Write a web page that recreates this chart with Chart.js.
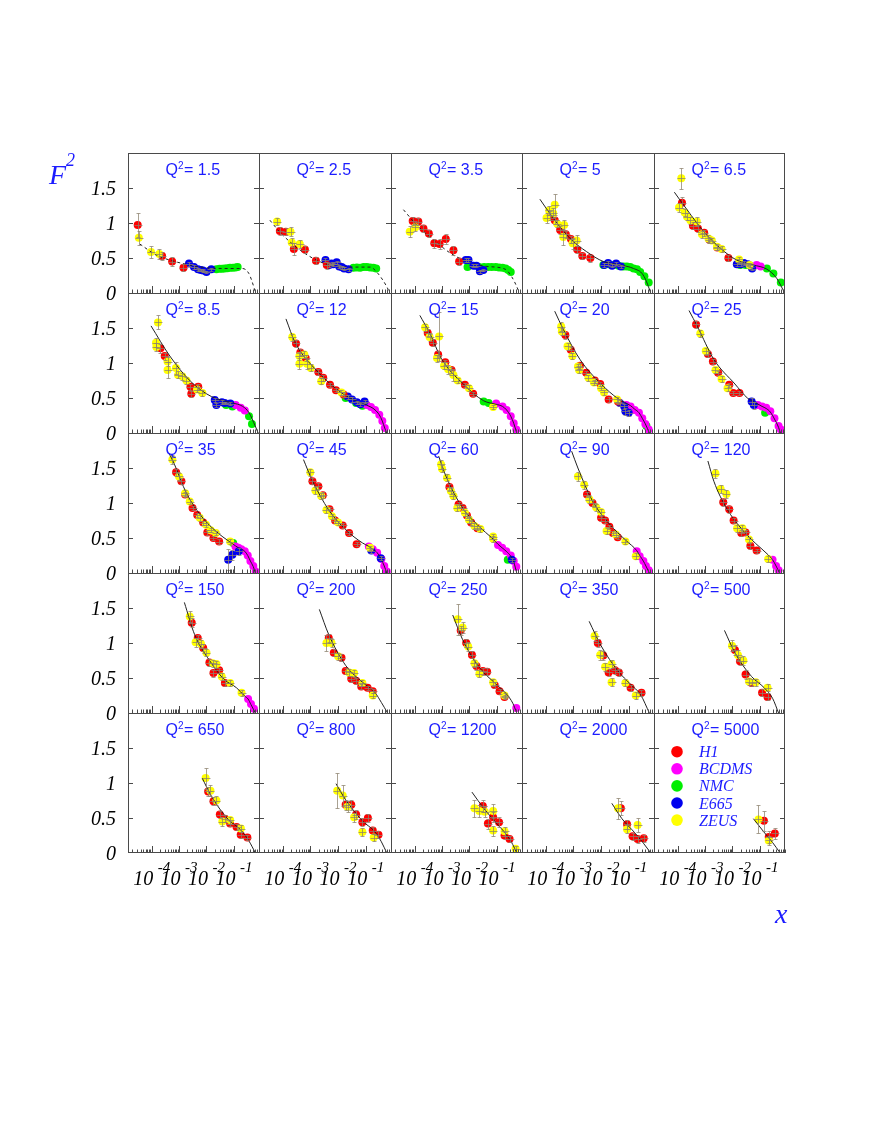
<!DOCTYPE html>
<html><head><meta charset="utf-8">
<script src="https://cdn.jsdelivr.net/npm/chart.js@4/dist/chart.umd.min.js"></script>
<style>
body{margin:0;background:#fff;}
#wrap{position:relative;width:880px;height:1139px;overflow:hidden;background:#fff;}
#wrap canvas{position:absolute;}
</style>
</head><body><div id="wrap"></div>
<script>
// ---------------- data ----------------
const q2Values = [1.5,2.5,3.5,5,6.5,8.5,12,15,20,25,35,45,60,90,120,150,200,250,350,500,650,800,1200,2000,5000];
const experimentNames = ['H1','BCDMS','NMC','E665','ZEUS'];
const yTickValues = [0,0.5,1,1.5];
const xTickExponents = [-4,-3,-2,-1];
const dashedFitPanels = [0,1,2];

// [x, F2, error] per panel
const h1Points = [
 [[3.1e-5,0.97,0.17],[2.4e-4,0.53,0.06],[5.6e-4,0.45,0.06],[1.45e-3,0.36,0.05]],
 [[7.8e-5,0.886,0.06],[1.29e-4,0.876,0.05],[2.5e-4,0.63,0.08],[6.3e-4,0.62,0.05],[1.58e-3,0.46,0.05],[3.9e-3,0.40,0.05]],
 [[8.5e-5,1.03,0.06],[1.36e-4,1.02,0.05],[2.1e-4,0.92,0.05],[3.3e-4,0.85,0.05],[5.2e-4,0.71,0.06],[8.1e-4,0.70,0.07],[1.37e-3,0.77,0.07],[2.6e-3,0.61,0.06],[4.2e-3,0.45,0.05]],
 [[1.4e-4,1.11,0.06],[2.1e-4,1.04,0.05],[3.3e-4,0.90,0.05],[5.3e-4,0.84,0.05],[8.1e-4,0.77,0.05],[1.37e-3,0.62,0.05],[2.1e-3,0.53,0.04],[4.1e-3,0.50,0.05]],
 [[1.44e-4,1.29,0.08],[3.6e-4,0.96,0.05],[5.5e-4,0.92,0.05],[9.3e-4,0.86,0.04],[1.45e-3,0.76,0.04],[2.8e-3,0.65,0.04],[7.1e-3,0.50,0.04]],
 [[2.1e-4,1.21,0.06],[3e-4,1.10,0.05],[2.6e-3,0.66,0.04],[2.8e-3,0.56,0.04],[5e-3,0.66,0.04]],
 [[3e-4,1.28,0.05],[4.3e-4,1.15,0.05],[6.7e-4,1.07,0.04],[1.93e-3,0.87,0.04],[2.9e-3,0.79,0.04],[5.1e-3,0.69,0.03],[8.4e-3,0.61,0.03],[0.0158,0.55,0.03]],
 [[3e-4,1.43,0.05],[4.6e-4,1.29,0.05],[7.2e-4,1.12,0.05],[1.31e-3,1.01,0.04],[2.2e-3,0.90,0.04],[6.8e-3,0.69,0.03],[0.0136,0.56,0.03]],
 [[5.1e-4,1.40,0.05],[8e-4,1.19,0.04],[1.73e-3,0.96,0.04],[2.9e-3,0.86,0.03],[5.9e-3,0.75,0.03],[9.3e-3,0.70,0.03],[0.0188,0.48,0.03],[0.041,0.45,0.03]],
 [[4.7e-4,1.55,0.05],[1.27e-3,1.13,0.04],[1.93e-3,1.02,0.04],[3e-3,0.86,0.03],[7.6e-3,0.69,0.03],[0.0107,0.57,0.03],[0.018,0.57,0.03]],
 [[7.8e-4,1.44,0.05],[1.22e-3,1.31,0.04],[1.67e-3,1.12,0.04],[3.1e-3,0.93,0.03],[4.6e-3,0.83,0.03],[7.6e-3,0.72,0.03],[0.0107,0.58,0.03],[0.018,0.50,0.03],[0.029,0.45,0.03]],
 [[1.18e-3,1.31,0.04],[1.93e-3,1.24,0.04],[2.8e-3,1.11,0.04],[4.9e-3,0.91,0.03],[7.8e-3,0.75,0.03],[0.0147,0.68,0.03],[0.025,0.57,0.03],[0.047,0.41,0.03]],
 [[1.86e-3,1.23,0.04],[4e-3,0.98,0.03],[5.6e-3,0.93,0.03],[8.1e-3,0.82,0.03],[0.0115,0.72,0.03],[0.0195,0.64,0.03]],
 [[3.1e-3,1.12,0.04],[4.9e-3,1.00,0.04],[0.01,0.79,0.04],[0.014,0.75,0.03],[0.02,0.66,0.03],[0.0268,0.57,0.03],[0.04,0.51,0.03]],
 [[4.6e-3,1.01,0.05],[7.6e-3,0.91,0.05],[0.011,0.75,0.04],[0.021,0.57,0.04],[0.03,0.58,0.04],[0.045,0.39,0.04],[0.076,0.32,0.03]],
 [[2.9e-3,1.29,0.06],[4.8e-3,1.07,0.05],[7.6e-3,0.93,0.05],[0.0128,0.72,0.05],[0.018,0.57,0.05],[0.029,0.61,0.04],[0.047,0.43,0.04]],
 [[4.6e-3,1.07,0.06],[7e-3,0.86,0.05],[0.0133,0.79,0.05],[0.0188,0.60,0.04],[0.03,0.49,0.04],[0.045,0.46,0.04],[0.069,0.38,0.04],[0.117,0.36,0.03],[0.18,0.31,0.03]],
 [[4.8e-3,1.18,0.07],[7.6e-3,1.00,0.06],[0.0123,0.83,0.05],[0.018,0.67,0.05],[0.0307,0.60,0.05],[0.044,0.59,0.05],[0.083,0.40,0.04],[0.125,0.31,0.04],[0.19,0.23,0.03]],
 [[7.6e-3,1.00,0.06],[0.012,0.82,0.06],[0.0188,0.58,0.05],[0.032,0.61,0.05],[0.044,0.58,0.05],[0.117,0.36,0.04],[0.29,0.29,0.04]],
 [[0.0123,0.90,0.07],[0.0188,0.74,0.06],[0.03,0.55,0.06],[0.05,0.43,0.05],[0.12,0.29,0.05],[0.19,0.23,0.05]],
 [[0.0115,0.88,0.07],[0.018,0.74,0.06],[0.0307,0.55,0.05],[0.047,0.49,0.05],[0.073,0.42,0.04],[0.125,0.37,0.04],[0.177,0.26,0.04],[0.31,0.22,0.04]],
 [[0.0188,0.69,0.07],[0.03,0.69,0.07],[0.045,0.55,0.06],[0.076,0.44,0.06],[0.12,0.50,0.06],[0.18,0.32,0.05],[0.29,0.26,0.05]],
 [[0.0307,0.67,0.09],[0.047,0.42,0.07],[0.073,0.51,0.07],[0.12,0.44,0.07],[0.19,0.25,0.05],[0.29,0.20,0.04]],
 [[0.052,0.64,0.1],[0.087,0.41,0.06],[0.138,0.24,0.05],[0.21,0.20,0.05],[0.35,0.21,0.05]],
 [[0.14,0.46,0.14],[0.21,0.23,0.08],[0.35,0.28,0.08]]
];

const zeusPoints = [
 [[3.4e-5,0.79,0.1],[9.5e-5,0.586,0.08],[1.9e-4,0.557,0.07]],
 [[6.2e-5,1.02,0.05],[1.9e-4,0.876,0.06],[2.1e-4,0.72,0.06],[4.1e-4,0.70,0.06]],
 [[6.6e-5,0.876,0.08],[1.06e-4,0.94,0.05]],
 [[1.06e-4,1.07,0.07],[1.32e-4,1.18,0.06],[1.85e-4,1.14,0.07],[2.1e-4,1.26,0.15],[2.6e-4,0.99,0.05],[4.6e-4,0.97,0.07],[4.3e-4,0.80,0.12],[9.3e-4,0.71,0.08],[1.3e-3,0.75,0.08]],
 [[1.36e-4,1.64,0.15],[1.12e-4,1.22,0.06],[1.8e-4,1.15,0.05],[2.2e-4,1.09,0.05],[2.9e-4,1.04,0.05],[5e-4,1.02,0.06],[7.7e-4,0.84,0.05],[1.33e-3,0.78,0.05],[1.77e-3,0.75,0.04],[2.7e-3,0.66,0.04],[4e-3,0.63,0.04],[0.0174,0.48,0.04],[0.042,0.40,0.03]],
 [[1.7e-4,1.58,0.1],[1.44e-4,1.29,0.06],[1.49e-4,1.23,0.06],[3.8e-4,1.02,0.06],[3.8e-4,0.90,0.12],[7.7e-4,0.93,0.08],[9.2e-4,0.83,0.05],[1.31e-3,0.81,0.05],[1.86e-3,0.75,0.05],[4.5e-3,0.62,0.04],[7.1e-3,0.57,0.04]],
 [[2.2e-4,1.37,0.05],[4e-4,1.10,0.05],[6e-4,1.12,0.05],[4e-4,0.99,0.08],[7.5e-4,0.99,0.07],[1.03e-3,0.93,0.05],[2.45e-3,0.74,0.04],[0.0133,0.58,0.03]],
 [[2.4e-4,1.51,0.05],[3.5e-4,1.37,0.05],[7.8e-4,1.38,0.35],[6.5e-4,1.07,0.05],[1.18e-3,0.96,0.05],[1.67e-3,0.91,0.06],[2.6e-3,0.83,0.08],[3.7e-3,0.75,0.04],[9.6e-3,0.64,0.04],[0.073,0.37,0.03]],
 [[3.6e-4,1.52,0.06],[3.8e-4,1.45,0.05],[6.1e-4,1.24,0.05],[9.2e-4,1.10,0.04],[1.46e-3,0.95,0.04],[1.6e-3,0.90,0.04],[3.5e-3,0.79,0.04],[5.5e-3,0.72,0.04],[0.01,0.64,0.03],[0.0128,0.58,0.03],[0.038,0.48,0.03]],
 [[6.7e-4,1.42,0.05],[1.06e-3,1.17,0.05],[2.4e-3,0.90,0.04],[4e-3,0.77,0.04],[6.6e-3,0.64,0.04]],
 [[5.7e-4,1.62,0.06],[1e-3,1.38,0.05],[1.67e-3,1.14,0.04],[2.45e-3,1.02,0.04],[5.7e-3,0.79,0.04],[9.6e-3,0.69,0.03],[0.0142,0.61,0.03],[0.022,0.57,0.03],[0.073,0.45,0.03]],
 [[9.9e-4,1.44,0.05],[1.51e-3,1.18,0.05],[2.45e-3,1.10,0.04],[3.8e-3,0.90,0.04],[6e-3,0.81,0.04],[0.01,0.72,0.03],[0.144,0.36,0.03]],
 [[9.2e-4,1.55,0.06],[1e-3,1.49,0.05],[1.51e-3,1.36,0.05],[2.1e-3,1.17,0.04],[2.6e-3,1.10,0.04],[3.6e-3,0.93,0.04],[6.8e-3,0.86,0.04],[9.6e-3,0.76,0.04],[0.0152,0.67,0.04],[0.025,0.63,0.04],[0.073,0.52,0.04],[0.073,0.49,0.04]],
 [[1.45e-3,1.38,0.07],[2.45e-3,1.26,0.06],[3.8e-3,1.05,0.05],[6.6e-3,0.94,0.05],[0.01,0.87,0.05],[0.0158,0.60,0.04],[0.034,0.55,0.04],[0.076,0.45,0.04],[0.18,0.24,0.04]],
 [[2.4e-3,1.42,0.06],[3.7e-3,1.20,0.06],[6e-3,1.13,0.06],[0.0147,0.64,0.05],[0.023,0.64,0.05],[0.04,0.48,0.04],[0.2,0.20,0.04]],
 [[2.45e-3,1.38,0.08],[4e-3,1.01,0.06],[6.3e-3,0.99,0.06],[0.01,0.86,0.05],[0.0168,0.71,0.05],[0.023,0.70,0.05],[0.036,0.52,0.05],[0.073,0.43,0.04],[0.19,0.29,0.04]],
 [[3.8e-3,1.00,0.12],[5.8e-3,1.00,0.06],[0.01,0.81,0.05],[0.025,0.58,0.05],[0.038,0.57,0.05],[0.076,0.43,0.04],[0.18,0.25,0.04]],
 [[3.7e-3,1.34,0.22],[5.6e-3,1.22,0.08],[9e-3,0.95,0.06],[0.0152,0.71,0.05],[0.023,0.56,0.05],[0.073,0.44,0.05],[0.19,0.25,0.04]],
 [[5.8e-3,1.10,0.07],[9.3e-3,0.83,0.07],[0.014,0.66,0.06],[0.024,0.70,0.06],[0.024,0.44,0.06],[0.076,0.43,0.05],[0.18,0.25,0.05]],
 [[9.6e-3,0.96,0.08],[0.0158,0.83,0.07],[0.025,0.75,0.06],[0.04,0.45,0.05],[0.071,0.44,0.05],[0.19,0.36,0.05]],
 [[9.3e-3,1.07,0.15],[0.014,0.89,0.08],[0.023,0.75,0.07],[0.038,0.45,0.06],[0.073,0.47,0.05],[0.18,0.35,0.05]],
 [[9.3e-3,0.89,0.25],[0.0147,0.82,0.15],[0.022,0.66,0.08],[0.038,0.51,0.06],[0.076,0.30,0.06],[0.195,0.22,0.05]],
 [[0.0152,0.64,0.12],[0.023,0.60,0.08],[0.036,0.59,0.08],[0.073,0.60,0.1],[0.073,0.32,0.07],[0.19,0.31,0.06],[0.48,0.06,0.04]],
 [[0.041,0.64,0.15],[0.087,0.34,0.06],[0.21,0.40,0.1]],
 [[0.089,0.48,0.2],[0.21,0.18,0.06]]
];

const e665Points = [
 [[2.3e-3,0.42,0.03],[3.5e-3,0.37,0.03],[4.9e-3,0.34,0.02],[6.2e-3,0.33,0.02],[7.5e-3,0.32,0.02],[0.01,0.30,0.02],[0.015,0.34,0.02]],
 [[3.5e-3,0.47,0.03],[4.8e-3,0.40,0.03],[5.8e-3,0.42,0.02],[6.7e-3,0.41,0.02],[8.9e-3,0.44,0.02],[0.011,0.38,0.02],[0.0135,0.37,0.02],[0.0165,0.35,0.02],[0.024,0.34,0.02]],
 [[7.3e-3,0.47,0.03],[9.2e-3,0.47,0.03],[0.014,0.39,0.02],[0.018,0.39,0.02],[0.024,0.31,0.02],[0.032,0.33,0.02]],
 [[0.013,0.40,0.03],[0.018,0.43,0.03],[0.025,0.39,0.02],[0.035,0.42,0.02],[0.052,0.38,0.02]],
 [[0.0144,0.41,0.03],[0.02,0.41,0.03],[0.026,0.43,0.03],[0.036,0.41,0.02],[0.052,0.35,0.02]],
 [[0.02,0.47,0.03],[0.023,0.40,0.03],[0.0366,0.44,0.03],[0.046,0.43,0.02],[0.074,0.42,0.02]],
 [[0.0224,0.52,0.03],[0.032,0.48,0.03],[0.048,0.44,0.02],[0.064,0.41,0.02],[0.091,0.45,0.02]],
 [],
 [[0.048,0.43,0.04],[0.069,0.38,0.04],[0.076,0.31,0.05],[0.10,0.29,0.04]],
 [[0.05,0.45,0.05],[0.06,0.40,0.05]],
 [[0.062,0.19,0.15],[0.088,0.26,0.07],[0.15,0.31,0.05]],
 [[0.16,0.32,0.03],[0.35,0.21,0.03]],
 [[0.35,0.19,0.03]],
 [],[],[],[],[],[],[],[],[],[],[],[]
];

const nmcPoints = [
 [[0.0231,0.34],[0.030,0.345],[0.037,0.345],[0.046,0.35],[0.058,0.355],[0.072,0.36],[0.091,0.36],[0.114,0.365],[0.137,0.37]],
 [[0.036,0.36],[0.048,0.365],[0.063,0.36],[0.084,0.37],[0.11,0.37],[0.145,0.365],[0.19,0.36],[0.24,0.35]],
 [[8.5e-3,0.37],[0.0225,0.37],[0.034,0.37],[0.048,0.37],[0.065,0.37],[0.091,0.37],[0.12,0.365],[0.16,0.36],[0.21,0.35],[0.26,0.33],[0.32,0.30]],
 [[0.0121,0.40],[0.0185,0.41],[0.028,0.40],[0.043,0.39],[0.065,0.38],[0.086,0.38],[0.114,0.37],[0.15,0.35],[0.2,0.34],[0.26,0.30],[0.37,0.24],[0.53,0.15]],
 [[0.019,0.40],[0.030,0.40],[0.045,0.39],[0.18,0.35],[0.31,0.28],[0.58,0.15]],
 [[0.052,0.40],[0.088,0.38],[0.356,0.24],[0.456,0.13]],
 [[0.0188,0.50],[0.045,0.43],[0.076,0.39]],
 [[0.033,0.45],[0.05,0.43]],
 [[0.44,0.10]],
 [[0.155,0.29]],
 [[0.094,0.43]],
 [],
 [[0.25,0.19]],
 [],[],[],[],[],[],[],[],[],[],[],[]
];

const bcdmsPoints = [
 [],[],[],[],
 [[0.076,0.40],[0.107,0.38]],
 [[0.116,0.40],[0.177,0.36],[0.25,0.32]],
 [[0.109,0.40],[0.155,0.37],[0.218,0.33],[0.31,0.26],[0.40,0.17],[0.49,0.07]],
 [[0.094,0.42],[0.16,0.38],[0.225,0.33],[0.32,0.24],[0.41,0.14],[0.51,0.05]],
 [[0.082,0.40],[0.117,0.38],[0.165,0.33],[0.235,0.29],[0.31,0.21],[0.40,0.13],[0.53,0.05]],
 [[0.084,0.40],[0.12,0.38],[0.17,0.36],[0.24,0.31],[0.34,0.21],[0.48,0.10],[0.58,0.05]],
 [[0.114,0.38],[0.146,0.36],[0.187,0.34],[0.25,0.31],[0.32,0.25],[0.40,0.17],[0.51,0.10],[0.625,0.02]],
 [[0.13,0.38],[0.18,0.34],[0.26,0.29],[0.37,0.20],[0.47,0.10],[0.58,0.02]],
 [[0.11,0.40],[0.155,0.36],[0.22,0.31],[0.32,0.25],[0.41,0.17],[0.51,0.09]],
 [[0.195,0.31],[0.25,0.24],[0.34,0.17],[0.42,0.10],[0.53,0.04]],
 [[0.29,0.19],[0.39,0.10],[0.48,0.04]],
 [[0.33,0.20],[0.42,0.13],[0.54,0.06]],
 [],
 [[0.51,0.07]],
 [],[],[],[],[],[],[]
];

// fitted F2 curve, [x, F2]
const fitCurves = [
 [[3.7e-5,0.70],[1.5e-4,0.54],[5.7e-4,0.46],[2.4e-3,0.40],[0.01,0.36],[0.064,0.35],[0.2,0.35],[0.35,0.28],[0.58,0.04],[0.62,0]],
 [[3.4e-5,1.04],[7.8e-5,0.87],[2.4e-4,0.69],[9.6e-4,0.52],[3.9e-3,0.41],[0.016,0.37],[0.145,0.37],[0.25,0.30],[0.58,0.09],[0.74,0]],
 [[3.9e-5,1.19],[1.2e-4,0.97],[4.9e-4,0.76],[2e-3,0.57],[8e-3,0.45],[0.043,0.38],[0.2,0.34],[0.35,0.23],[0.6,0.04],[0.65,0]],
 [[6.1e-5,1.34],[1.85e-4,1.07],[7.5e-4,0.78],[3e-3,0.59],[0.012,0.45],[0.049,0.40],[0.15,0.35],[0.33,0.26],[0.6,0.02],[0.62,0]],
 [[7.6e-5,1.44],[2.2e-4,1.19],[8.8e-4,0.88],[3.6e-3,0.64],[0.0144,0.47],[0.058,0.40],[0.18,0.34],[0.41,0.21],[0.8,0]],
 [[9.5e-5,1.53],[4.6e-4,1.10],[2.6e-3,0.74],[0.0152,0.52],[0.088,0.43],[0.21,0.38],[0.356,0.29],[0.60,0.10],[0.77,0]],
 [[1.3e-4,1.63],[2.8e-4,1.29],[1.6e-3,0.90],[9.3e-3,0.62],[0.027,0.50],[0.076,0.42],[0.155,0.37],[0.218,0.33],[0.31,0.26],[0.40,0.17],[0.49,0.07],[0.58,0]],
 [[1.55e-4,1.68],[3.5e-4,1.43],[9.9e-4,1.05],[5.6e-3,0.71],[0.033,0.46],[0.094,0.41],[0.16,0.38],[0.225,0.33],[0.32,0.24],[0.41,0.14],[0.53,0]],
 [[2.1e-4,1.74],[4.3e-4,1.48],[1.73e-3,1.05],[0.01,0.70],[0.041,0.49],[0.117,0.39],[0.165,0.34],[0.235,0.29],[0.31,0.21],[0.40,0.13],[0.56,0]],
 [[2.6e-4,1.75],[5.3e-4,1.52],[2.1e-3,1.05],[0.0123,0.70],[0.035,0.50],[0.071,0.43],[0.12,0.38],[0.17,0.35],[0.24,0.30],[0.34,0.20],[0.48,0.08],[0.56,0]],
 [[4.3e-4,1.71],[6.5e-4,1.57],[1.86e-3,1.14],[7.6e-3,0.78],[0.0307,0.55],[0.088,0.42],[0.146,0.36],[0.25,0.31],[0.32,0.25],[0.40,0.17],[0.51,0.09],[0.61,0]],
 [[5.6e-4,1.62],[1.14e-3,1.33],[4.6e-3,0.90],[0.0188,0.62],[0.076,0.43],[0.13,0.38],[0.18,0.34],[0.26,0.29],[0.37,0.19],[0.47,0.10],[0.58,0]],
 [[7.5e-4,1.67],[1.4e-3,1.38],[5.6e-3,0.93],[0.023,0.66],[0.066,0.50],[0.11,0.41],[0.155,0.36],[0.22,0.31],[0.32,0.24],[0.41,0.16],[0.53,0]],
 [[8.6e-4,1.74],[1.45e-3,1.50],[4.9e-3,1.03],[0.02,0.70],[0.082,0.46],[0.195,0.32],[0.25,0.25],[0.34,0.17],[0.42,0.10],[0.56,0]],
 [[1.27e-3,1.60],[2.1e-3,1.31],[6e-3,0.93],[0.025,0.60],[0.071,0.42],[0.2,0.26],[0.29,0.19],[0.39,0.10],[0.52,0]],
 [[1.56e-3,1.58],[3.7e-3,1.12],[0.0152,0.71],[0.044,0.48],[0.125,0.36],[0.25,0.24],[0.33,0.20],[0.42,0.12],[0.61,0]],
 [[2.1e-3,1.48],[4.6e-3,1.12],[0.0188,0.68],[0.076,0.44],[0.218,0.29],[0.37,0.15],[0.62,0]],
 [[2.45e-3,1.40],[5.6e-3,1.05],[0.023,0.65],[0.095,0.41],[0.225,0.27],[0.38,0.14],[0.53,0]],
 [[3.7e-3,1.31],[0.01,0.96],[0.041,0.60],[0.117,0.41],[0.27,0.26],[0.56,0]],
 [[5.1e-3,1.18],[0.0123,0.86],[0.05,0.52],[0.144,0.36],[0.29,0.21],[0.48,0]],
 [[7e-3,1.07],[0.0152,0.81],[0.062,0.48],[0.177,0.33],[0.356,0.17],[0.61,0]],
 [[8.4e-3,0.99],[0.0188,0.76],[0.076,0.46],[0.218,0.30],[0.37,0.16],[0.58,0]],
 [[0.0123,0.87],[0.033,0.64],[0.094,0.43],[0.225,0.26],[0.38,0.12],[0.53,0]],
 [[0.0245,0.71],[0.057,0.49],[0.165,0.29],[0.34,0.14],[0.63,0]],
 [[0.058,0.49],[0.14,0.30],[0.29,0.15],[0.55,0]]
];

// ---------------- styles / layout ----------------
const COLORS = {H1:'#ff0000', BCDMS:'#ff00ff', NMC:'#00ee00', E665:'#0000ee', ZEUS:'#ffff00'};
const SHOW_ERR = {H1:true, BCDMS:false, NMC:false, E665:true, ZEUS:true};
const BLUE = '#1c1cff';
const ERR_COLOR = 'rgba(140,130,110,0.75)';
const FRAME_COLOR = '#4a4a4a';
const XMIN = 1.374e-5, XMAX = 0.824;
const PANEL_LEFT = [128,259,391,522,654], PANEL_RIGHT = 785;
const PANEL_TOP = [153,293,433,573,713], PANEL_H = 140;
const SERIF = '"Liberation Serif","Times New Roman",serif';
const SANS = '"Liberation Sans",Arial,sans-serif';

const seriesByExp = {H1:h1Points, BCDMS:bcdmsPoints, NMC:nmcPoints, E665:e665Points, ZEUS:zeusPoints};
const drawOrder = {NMC:5, BCDMS:4, E665:3, H1:2, ZEUS:1};

const panelPlugin = {
  id: 'panel',
  afterDatasetsDraw(chart) {
    const {ctx, chartArea: a, scales} = chart;
    ctx.save();
    ctx.beginPath();
    ctx.rect(a.left, a.top, a.right - a.left, a.bottom - a.top);
    ctx.clip();
    ctx.strokeStyle = ERR_COLOR;
    ctx.lineWidth = 1;
    chart.data.datasets.forEach(ds => {
      if (!ds.errBars) return;
      ds.data.forEach(d => {
        const X = Math.round(scales.x.getPixelForValue(d.x)) + 0.5;
        const Y = Math.round(scales.y.getPixelForValue(d.y)) + 0.5;
        const y1 = Math.round(scales.y.getPixelForValue(d.y - d.e)) + 0.5;
        const y2 = Math.round(scales.y.getPixelForValue(d.y + d.e)) + 0.5;
        ctx.beginPath();
        ctx.moveTo(X, y1); ctx.lineTo(X, y2);
        ctx.moveTo(X - 4, Y); ctx.lineTo(X + 4, Y);
        ctx.moveTo(X - 2, y1); ctx.lineTo(X + 2, y1);
        ctx.moveTo(X - 2, y2); ctx.lineTo(X + 2, y2);
        ctx.stroke();
      });
    });
    ctx.restore();
  },
  afterDraw(chart) {
    const o = chart.options.plugins.panel;
    const idx = o.idx, r = Math.floor(idx / 5), c = idx % 5;
    const {ctx, chartArea: a, scales: {x, y}} = chart;
    ctx.save();
    // frame
    ctx.strokeStyle = FRAME_COLOR;
    ctx.lineWidth = 1;
    ctx.beginPath();
    ctx.moveTo(a.left + 0.5, a.top); ctx.lineTo(a.left + 0.5, a.bottom);
    ctx.moveTo(a.left, a.top + 0.5); ctx.lineTo(a.right, a.top + 0.5);
    if (c === 4) { ctx.moveTo(a.right - 0.5, a.top); ctx.lineTo(a.right - 0.5, a.bottom); }
    if (r === 4) { ctx.moveTo(a.left, a.bottom - 0.5); ctx.lineTo(a.right, a.bottom - 0.5); }
    ctx.stroke();
    // y ticks on both sides
    ctx.beginPath();
    yTickValues.forEach(v => {
      if (v <= 0) return;
      const py = Math.round(y.getPixelForValue(v)) + 0.5;
      ctx.moveTo(a.left, py); ctx.lineTo(a.left + 5, py);
      ctx.moveTo(a.right, py); ctx.lineTo(a.right - 5, py);
    });
    // x ticks (log)
    for (let d = -5; d <= 0; d++) {
      for (let k = 1; k <= 9; k++) {
        const v = k * Math.pow(10, d);
        if (v <= XMIN || v >= XMAX) continue;
        const px = Math.round(x.getPixelForValue(v)) + 0.5;
        const len = k === 1 ? 7 : 3.5;
        ctx.moveTo(px, a.bottom); ctx.lineTo(px, a.bottom - len);
      }
    }
    ctx.stroke();

    // Q2 label
    const bx = a.left + 37.5, by = a.top + 22;
    ctx.fillStyle = BLUE;
    ctx.textAlign = 'left';
    ctx.textBaseline = 'alphabetic';
    ctx.font = '16px ' + SANS;
    ctx.fillText('Q', bx, by);
    const wq = ctx.measureText('Q').width;
    ctx.font = '10px ' + SANS;
    ctx.fillText('2', bx + wq, by - 6);
    const w2 = ctx.measureText('2').width;
    ctx.font = '16px ' + SANS;
    ctx.fillText('= ' + q2Values[idx], bx + wq + w2 + 0.5, by);

    ctx.fillStyle = '#000';
    // y labels on left column
    if (c === 0) {
      ctx.font = 'italic 20px ' + SERIF;
      ctx.textAlign = 'right';
      yTickValues.forEach(v => {
        const py = y.getPixelForValue(v);
        ctx.fillText(String(v), a.left - 12, py + 7);
      });
    }
    // x labels on bottom row
    if (r === 4) {
      xTickExponents.forEach(e => {
        const px = x.getPixelForValue(Math.pow(10, e));
        ctx.font = 'italic 20px ' + SERIF;
        ctx.textAlign = 'right';
        ctx.fillText('10', px + 1.5, a.bottom + 32);
        ctx.font = 'italic 15px ' + SERIF;
        ctx.textAlign = 'left';
        ctx.fillText(String(e), px + 6, a.bottom + 19);
      });
    }
    // F2 axis title
    if (idx === 0) {
      ctx.fillStyle = BLUE;
      ctx.textAlign = 'left';
      ctx.font = 'italic 28px ' + SERIF;
      ctx.fillText('F', a.left - 79, a.top + 31);
      ctx.font = 'italic 18px ' + SERIF;
      ctx.fillText('2', a.left - 62, a.top + 13);
    }
    // legend and x title
    if (idx === 24) {
      experimentNames.forEach((n, i) => {
        const cy = a.top + 38.7 + i * 17.1;
        ctx.fillStyle = COLORS[n];
        ctx.beginPath();
        ctx.arc(a.left + 23, cy, 5.8, 0, Math.PI * 2);
        ctx.fill();
        ctx.fillStyle = BLUE;
        ctx.font = 'italic 16px ' + SERIF;
        ctx.textAlign = 'left';
        ctx.fillText(n, a.left + 45, cy + 5.5);
      });
      ctx.fillStyle = BLUE;
      ctx.font = 'italic 28px ' + SERIF;
      ctx.textAlign = 'left';
      ctx.fillText('x', a.left + 121, a.bottom + 70);
    }
    ctx.restore();
  }
};

const wrap = document.getElementById('wrap');
for (let idx = 0; idx < 25; idx++) {
  const r = Math.floor(idx / 5), c = idx % 5;
  const left = PANEL_LEFT[c];
  const w = (c < 4 ? PANEL_LEFT[c + 1] : PANEL_RIGHT) - left;
  const top = PANEL_TOP[r];
  const padL = c === 0 ? 128 : 0;
  const padR = idx === 24 ? 20 : 0;
  const padT = c === 0 ? 12 : 0;
  const padB = r === 4 ? 82 : (c === 0 ? 12 : 0);
  const cv = document.createElement('canvas');
  const cw = w + padL + padR, ch = PANEL_H + padT + padB;
  cv.width = cw; cv.height = ch;
  cv.style.width = cw + 'px'; cv.style.height = ch + 'px';
  cv.style.left = (left - padL) + 'px';
  cv.style.top = (top - padT) + 'px';
  wrap.appendChild(cv);

  const datasets = [];
  datasets.push({
    label: 'fit',
    data: fitCurves[idx].map(p => ({x: p[0], y: p[1]})),
    showLine: true,
    pointRadius: 0,
    borderColor: '#222',
    borderWidth: 1,
    borderDash: dashedFitPanels.includes(idx) ? [3, 3] : [],
    cubicInterpolationMode: 'monotone',
    order: 0
  });
  experimentNames.forEach(n => {
    const pts = seriesByExp[n][idx] || [];
    datasets.push({
      label: n,
      data: pts.map(p => ({x: p[0], y: p[1], e: p[2] || 0})),
      pointRadius: 4,
      pointBorderWidth: 0,
      pointBackgroundColor: COLORS[n],
      backgroundColor: COLORS[n],
      borderColor: COLORS[n],
      showLine: false,
      errBars: SHOW_ERR[n],
      order: drawOrder[n]
    });
  });

  new Chart(cv, {
    type: 'scatter',
    data: {datasets},
    options: {
      responsive: false,
      animation: false,
      devicePixelRatio: 1,
      events: [],
      layout: {autoPadding: false, padding: {left: padL, right: padR, top: padT, bottom: padB}},
      plugins: {legend: {display: false}, tooltip: {enabled: false}, panel: {idx}},
      scales: {
        x: {type: 'logarithmic', min: XMIN, max: XMAX, display: false},
        y: {type: 'linear', min: 0, max: 2, display: false}
      }
    },
    plugins: [panelPlugin]
  });
}
</script>
</body></html>
